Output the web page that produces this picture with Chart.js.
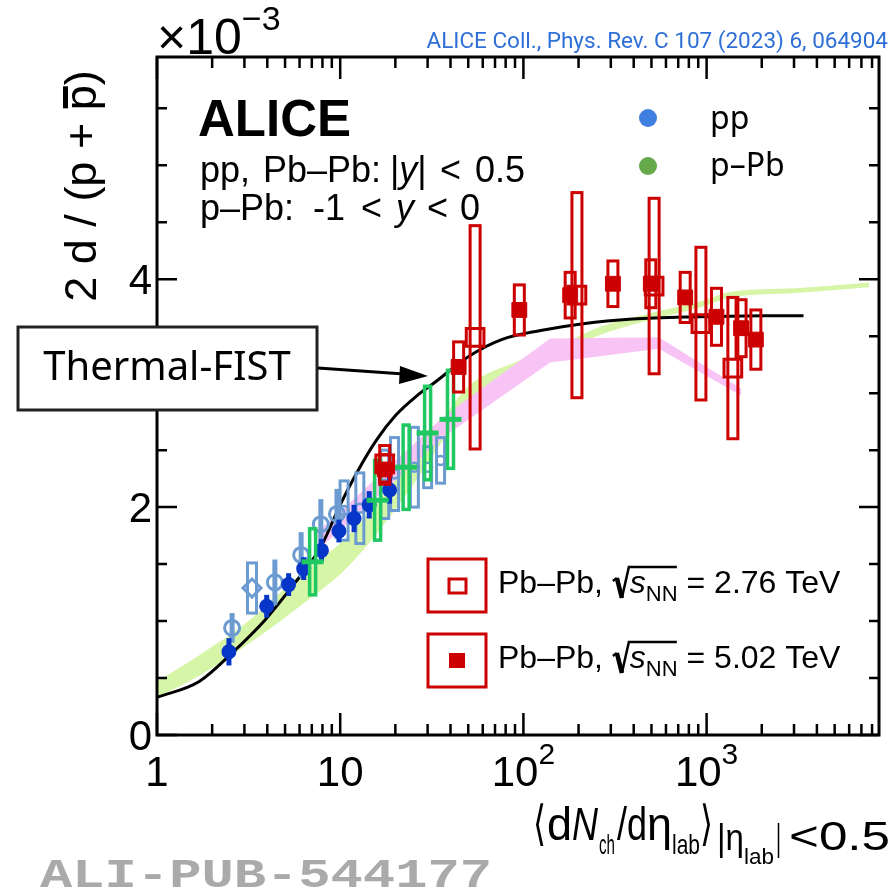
<!DOCTYPE html>
<html><head><meta charset="utf-8">
<script src="https://cdn.jsdelivr.net/npm/chart.js@4.4.1/dist/chart.umd.min.js"></script>
<style>html,body{margin:0;padding:0;background:#fff;}canvas{display:block;}</style>
</head><body>
<canvas id="c" width="895" height="892"></canvas>
<script>
// ---------------- data ----------------
const xTickValues = [1, 10, 100, 1000];
const xTickBase = ["1", "10", "10", "10"];
const xTickExp = ["", "", "2", "3"];
const yTickValues = [0, 2, 4];
const yTickLabels = ["0", "2", "4"];

// p-Pb model band (light green)
const greenBandX = [1, 1.7, 3.16, 5.9, 10.9, 20, 33, 50, 93, 172, 261, 486, 907, 1360, 3070, 7700];
const greenBandLow = [0.33, 0.52, 0.80, 1.12, 1.47, 1.98, 2.48, 2.92, 3.19, 3.38, 3.51, 3.64, 3.75, 3.84, 3.88, 3.93];
const greenBandHigh = [0.47, 0.70, 1.00, 1.39, 1.74, 2.24, 2.68, 3.06, 3.28, 3.45, 3.58, 3.70, 3.80, 3.89, 3.92, 3.97];

// pink model band
const pinkBandX = [7.5, 37, 140, 548, 1542];
const pinkBandLow = [1.62, 2.62, 3.27, 3.39, 2.98];
const pinkBandHigh = [1.78, 2.80, 3.48, 3.49, 3.04];

// Thermal-FIST curve
const fistX = [1, 1.7, 2.57, 3.89, 5.63, 7.83, 10, 12.3, 15.8, 20.2, 25.9, 33.2, 50, 76, 124, 212, 394, 907, 2050, 3380];
const fistY = [0.33, 0.47, 0.72, 1.01, 1.33, 1.65, 2.02, 2.30, 2.59, 2.81, 2.97, 3.10, 3.32, 3.47, 3.55, 3.61, 3.65, 3.67, 3.68, 3.68];

// pp, high multiplicity (light blue boxes)
const ppHmX = [10.5, 12.8, 17.5, 19.8, 25.4, 30, 35.3];
const ppHmY = [1.97, 1.99, 2.20, 2.29, 2.35, 2.35, 2.41];
const ppHmSys = [0.26, 0.31, 0.30, 0.32, 0.35, 0.18, 0.20];

// pp, open circles (light blue)
const ppOpenX = [2.57, 4.4, 6.12, 7.84, 9.6];
const ppOpenY = [0.94, 1.34, 1.58, 1.85, 1.94];
const ppOpenErr = [0.13, 0.20, 0.20, 0.22, 0.22];

// pp, open diamond (light blue)
const ppDiamondX = [3.3];
const ppDiamondY = [1.29];
const ppDiamondSys = [0.22];

// pp, filled circles (dark blue)
const ppFilledX = [2.47, 3.97, 5.23, 6.32, 7.9, 9.84, 11.9, 14.4, 18.6];
const ppFilledY = [0.73, 1.13, 1.32, 1.46, 1.62, 1.79, 1.90, 2.02, 2.15];
const ppFilledErr = [0.12, 0.10, 0.10, 0.10, 0.10, 0.10, 0.12, 0.12, 0.12];

// p-Pb (green)
const pPbX = [7.07, 16.0, 22.9, 30, 40];
const pPbY = [1.52, 2.06, 2.35, 2.65, 2.77];
const pPbSys = [0.29, 0.35, 0.37, 0.41, 0.43];

// Pb-Pb 2.76 TeV (open squares)
const pb276X = [17.5, 54.5, 196, 517, 931, 1391];
const pb276Y = [2.38, 3.49, 3.86, 3.94, 3.61, 3.22];
const pb276Sys = [0.16, 0.98, 0.90, 0.77, 0.67, 0.62];

// Pb-Pb 5.02 TeV (filled squares)
const pb502X = [17.5, 44.3, 95, 180, 308, 496, 764, 1132, 1542, 1857];
const pb502Y = [2.33, 3.23, 3.73, 3.86, 3.96, 3.96, 3.84, 3.67, 3.57, 3.47];
const pb502Sys = [0.13, 0.22, 0.22, 0.20, 0.20, 0.21, 0.22, 0.25, 0.25, 0.26];

// ---------------- colours ----------------
const RED = '#cc0000', DBLUE = '#0636c8', LBLUE = '#6b9bd1', GREEN = '#1fc861';
const pts = (xs, ys) => xs.map((x, i) => ({x: x, y: ys[i]}));

const errPlugin = {
  id: 'errs',
  beforeDatasetDraw(chart, args) {
    const ds = chart.data.datasets[args.index];
    if (!ds.errSpecs) return;
    const ctx = chart.ctx, xs = chart.scales.x, ys = chart.scales.y, a = chart.chartArea;
    ctx.save();
    ctx.beginPath(); ctx.rect(a.left, a.top, a.right - a.left, a.bottom - a.top); ctx.clip();
    ds.errSpecs.forEach(sp => {
      ctx.strokeStyle = sp.color; ctx.lineWidth = sp.line;
      ds.data.forEach((p, i) => {
        const e = sp.vals[i];
        const px = xs.getPixelForValue(p.x);
        const t = ys.getPixelForValue(p.y + e), b = ys.getPixelForValue(p.y - e);
        if (sp.kind === 'box') ctx.strokeRect(px - sp.w / 2, t, sp.w, b - t);
        else { ctx.beginPath(); ctx.moveTo(px, t); ctx.lineTo(px, b); ctx.stroke(); }
      });
    });
    ctx.restore();
  }
};

function txt(ctx, s, x, y, font, color, align, base) {
  ctx.font = font; ctx.fillStyle = color || '#000';
  ctx.textAlign = align || 'left'; ctx.textBaseline = base || 'alphabetic';
  ctx.fillText(s, x, y);
  return ctx.measureText(s).width;
}
// text squeezed/stretched horizontally to span x0..x1
function fit(ctx, s, x0, x1, y, font, color) {
  ctx.font = font;
  const w = ctx.measureText(s).width;
  ctx.save();
  ctx.translate(x0, y); ctx.scale((x1 - x0) / w, 1);
  ctx.fillStyle = color || '#000'; ctx.textAlign = 'left'; ctx.textBaseline = 'alphabetic';
  ctx.fillText(s, 0, 0);
  ctx.restore();
}

const decoPlugin = {
  id: 'deco',
  afterDraw(chart) {
    const ctx = chart.ctx, xs = chart.scales.x, ys = chart.scales.y, a = chart.chartArea;
    const SANS = "'Liberation Sans', Arial, sans-serif";
    const SANSG = "'Liberation Sans', 'DejaVu Sans', sans-serif";
    ctx.save();
    // frame
    ctx.strokeStyle = '#000'; ctx.lineWidth = 3;
    ctx.strokeRect(a.left, a.top, a.right - a.left, a.bottom - a.top);
    ctx.lineWidth = 2.5;
    for (let d = 0; d < 4; d++) for (let m = 1; m <= 9; m++) {
      const v = m * Math.pow(10, d);
      if (v > xs.max) continue;
      const px = xs.getPixelForValue(v), L = (m === 1) ? 22 : 11;
      ctx.beginPath();
      ctx.moveTo(px, a.bottom); ctx.lineTo(px, a.bottom - L);
      ctx.moveTo(px, a.top); ctx.lineTo(px, a.top + L);
      ctx.stroke();
    }
    for (let v = 0; v <= 5.5001; v += 0.5) {
      const py = ys.getPixelForValue(v), L = (Math.abs(v % 2) < 1e-6) ? 20 : 10;
      ctx.beginPath();
      ctx.moveTo(a.left, py); ctx.lineTo(a.left + L, py);
      ctx.moveTo(a.right, py); ctx.lineTo(a.right - L, py);
      ctx.stroke();
    }
    // tick labels
    yTickValues.forEach((v, i) => txt(ctx, yTickLabels[i], 152, ys.getPixelForValue(v) + 3, '42px ' + SANS, '#000', 'right', 'middle'));
    xTickValues.forEach((v, i) => {
      const px = xs.getPixelForValue(v);
      ctx.font = '42px ' + SANS; const w1 = ctx.measureText(xTickBase[i]).width;
      ctx.font = '30px ' + SANS; const w2 = xTickExp[i] ? ctx.measureText(xTickExp[i]).width : 0;
      const x0 = px - (w1 + w2) / 2;
      txt(ctx, xTickBase[i], x0, 786, '42px ' + SANS, '#000');
      if (w2) txt(ctx, xTickExp[i], x0 + w1, 764, '30px ' + SANS, '#000');
    });
    // x10^-3
    let w = txt(ctx, '×10', 157, 54, '50px ' + SANS, '#000');
    txt(ctx, '−3', 157 + w, 30, '34px ' + SANS, '#000');
    // citation
    txt(ctx, 'ALICE Coll., Phys. Rev. C 107 (2023) 6, 064904', 888, 48, "22.5px Roboto, 'Noto Sans', sans-serif", '#2f6fd8', 'right');
    // y title (rotated)
    ctx.save();
    ctx.translate(96, 186); ctx.rotate(-Math.PI / 2);
    ctx.font = '45px ' + SANS;
    const yt1 = '2 d / (p + ', yt2 = 'p', yt3 = ')';
    const wa = ctx.measureText(yt1).width, wb = ctx.measureText(yt2).width, wc = ctx.measureText(yt3).width;
    const st = -(wa + wb + wc) / 2;
    txt(ctx, yt1, st, 0, '45px ' + SANS, '#000');
    txt(ctx, yt2, st + wa, 0, '45px ' + SANS, '#000');
    txt(ctx, yt3, st + wa + wb, 0, '45px ' + SANS, '#000');
    ctx.fillStyle = '#000'; ctx.fillRect(st + wa + 2, -33, wb - 3, 5);
    ctx.restore();
    // x title, pieces placed along the reference span
    const B = 840;
    fit(ctx, '⟨', 533, 546, B, '48px ' + SANSG);
    fit(ctx, 'd', 547, 572, B, '46px ' + SANS);
    fit(ctx, 'N', 572, 598, B, 'italic 46px ' + SANS);
    fit(ctx, 'ch', 599, 615, B + 14, '28px ' + SANS);
    fit(ctx, '/d', 617, 647, B, '46px ' + SANS);
    fit(ctx, 'η', 647, 672, B, '46px ' + SANSG);
    fit(ctx, 'lab', 672, 700, B + 14, '28px ' + SANS);
    fit(ctx, '⟩', 700, 713, B, '48px ' + SANSG);
    fit(ctx, '|η', 717, 744, B + 10, '36px ' + SANSG);
    fit(ctx, 'lab', 744, 774, B + 24, '22px ' + SANS);
    fit(ctx, '|', 776, 781, B + 10, '36px ' + SANS);
    fit(ctx, '<0.5', 789, 890, B + 10, '40px ' + SANS);
    // ALICE + conditions (pieces at reference positions)
    txt(ctx, 'ALICE', 198, 136, 'bold 51px ' + SANS);
    const F36 = '36px ' + SANS, I36 = 'italic 36px ' + SANS;
    txt(ctx, 'pp,', 200, 182, F36);
    txt(ctx, 'Pb–Pb:', 263, 182, F36);
    let xx = 390;
    xx += txt(ctx, '|', xx, 182, F36);
    xx += txt(ctx, 'y', xx, 182, I36);
    txt(ctx, '|', xx, 182, F36);
    txt(ctx, '<', 440, 182, F36);
    txt(ctx, '0.5', 475, 182, F36);
    txt(ctx, 'p–Pb:', 200, 220, F36);
    txt(ctx, '-1', 313, 220, F36);
    txt(ctx, '<', 361, 220, F36);
    txt(ctx, 'y', 396, 220, I36);
    txt(ctx, '<', 427, 220, F36);
    txt(ctx, '0', 460, 220, F36);
    // pp / p-Pb legend
    ctx.fillStyle = '#3f7fe0'; ctx.beginPath(); ctx.arc(648, 118, 9, 0, 2 * Math.PI); ctx.fill();
    ctx.fillStyle = '#66a84c'; ctx.beginPath(); ctx.arc(648, 166, 9, 0, 2 * Math.PI); ctx.fill();
    txt(ctx, 'pp', 710, 129, "32px 'Noto Sans', sans-serif");
    txt(ctx, 'p–Pb', 710, 176, "32px 'Noto Sans', sans-serif");
    // Pb-Pb legend
    ctx.strokeStyle = RED; ctx.lineWidth = 3;
    ctx.strokeRect(428, 559, 58, 53);
    ctx.strokeRect(449, 579, 17, 14);
    ctx.strokeRect(428, 634, 58, 53);
    ctx.fillStyle = RED; ctx.fillRect(449, 653, 16, 15);
    [[593, '2.76'], [668, '5.02']].forEach(([bl, e]) => {
      let x = 498;
      x += txt(ctx, 'Pb–Pb, ', x, bl, '32px ' + SANS);
      ctx.strokeStyle = '#000'; ctx.lineWidth = 2.5;
      ctx.beginPath(); ctx.moveTo(x + 1, bl - 12); ctx.lineTo(x + 5, bl - 15); ctx.stroke();
      ctx.lineWidth = 4.5;
      ctx.beginPath(); ctx.moveTo(x + 5, bl - 15); ctx.lineTo(x + 10, bl + 5); ctx.stroke();
      ctx.lineWidth = 2.5;
      ctx.beginPath(); ctx.moveTo(x + 10, bl + 5); ctx.lineTo(x + 17, bl - 26); ctx.lineTo(x + 65, bl - 26); ctx.stroke();
      x += 18;
      x += txt(ctx, 's', x, bl, 'italic 32px ' + SANS);
      x += txt(ctx, 'NN', x, bl + 8, '22px ' + SANS);
      txt(ctx, ' = ' + e + ' TeV', x, bl, '32px ' + SANS);
    });
    // Thermal-FIST annotation
    ctx.fillStyle = '#fff'; ctx.fillRect(18, 327, 299, 83);
    ctx.strokeStyle = '#222'; ctx.lineWidth = 3; ctx.strokeRect(18, 327, 299, 83);
    txt(ctx, 'Thermal-FIST', 167, 369, "40px 'Noto Sans', sans-serif", '#000', 'center', 'middle');
    ctx.strokeStyle = '#000'; ctx.lineWidth = 3;
    ctx.beginPath(); ctx.moveTo(318, 368); ctx.lineTo(404, 374); ctx.stroke();
    ctx.fillStyle = '#000'; ctx.beginPath();
    ctx.moveTo(428, 376); ctx.lineTo(400, 366); ctx.lineTo(399, 384); ctx.closePath(); ctx.fill();
    // ALI-PUB
    fit(ctx, 'ALI-PUB-544177', 40, 492, 887, "bold 40px 'Liberation Mono', 'Courier New', monospace", '#aaaaaa');
    ctx.restore();
  }
};

const none = 'rgba(0,0,0,0)';
new Chart(document.getElementById('c'), {
  type: 'scatter',
  data: {
    datasets: [
      {type: 'line', label: 'band-low', data: pts(greenBandX, greenBandLow), borderColor: none, pointRadius: 0, fill: false, cubicInterpolationMode: 'monotone', order: 20},
      {type: 'line', label: 'p-Pb model', data: pts(greenBandX, greenBandHigh), borderColor: none, pointRadius: 0, fill: '-1', backgroundColor: '#d6f5a6', cubicInterpolationMode: 'monotone', order: 19},
      {type: 'line', label: 'pink-low', data: pts(pinkBandX, pinkBandLow), borderColor: none, pointRadius: 0, fill: false, tension: 0, order: 18},
      {type: 'line', label: 'Pb-Pb model', data: pts(pinkBandX, pinkBandHigh), borderColor: none, pointRadius: 0, fill: '-1', backgroundColor: '#f8c4f5', tension: 0, order: 17},
      {type: 'line', label: 'Thermal-FIST', data: pts(fistX, fistY), borderColor: '#000', borderWidth: 3, pointRadius: 0, fill: false, cubicInterpolationMode: 'monotone', order: 16},
      {label: 'pp HM', data: pts(ppHmX, ppHmY), pointStyle: 'circle', radius: 4.5, borderWidth: 2.5, borderColor: LBLUE, backgroundColor: none, order: 10,
        errSpecs: [{kind: 'box', vals: ppHmSys, w: 8, line: 3, color: LBLUE}]},
      {label: 'pp open', data: pts(ppOpenX, ppOpenY), pointStyle: 'circle', radius: 7.5, borderWidth: 3, borderColor: LBLUE, backgroundColor: none, order: 9,
        errSpecs: [{kind: 'bar', vals: ppOpenErr, line: 5, color: LBLUE}]},
      {label: 'pp diamond', data: pts(ppDiamondX, ppDiamondY), pointStyle: 'rectRot', radius: 9, borderWidth: 3, borderColor: LBLUE, backgroundColor: none, order: 8,
        errSpecs: [{kind: 'box', vals: ppDiamondSys, w: 9, line: 3, color: LBLUE}]},
      {label: 'pp', data: pts(ppFilledX, ppFilledY), pointStyle: 'circle', radius: 7.5, borderWidth: 0, borderColor: DBLUE, backgroundColor: DBLUE, order: 7,
        errSpecs: [{kind: 'bar', vals: ppFilledErr, line: 5, color: DBLUE}]},
      {label: 'p-Pb', data: pts(pPbX, pPbY), pointStyle: 'line', radius: 11, borderWidth: 5, borderColor: GREEN, backgroundColor: GREEN, order: 6,
        errSpecs: [{kind: 'box', vals: pPbSys, w: 6, line: 3.5, color: GREEN}]},
      {label: 'Pb-Pb 2.76 TeV', data: pts(pb276X, pb276Y), pointStyle: 'rect', radius: 12.5, borderWidth: 3, borderColor: RED, backgroundColor: none, order: 5,
        errSpecs: [{kind: 'box', vals: pb276Sys, w: 10, line: 3, color: RED}]},
      {label: 'Pb-Pb 5.02 TeV', data: pts(pb502X, pb502Y), pointStyle: 'rect', radius: 10.5, borderWidth: 1, borderColor: RED, backgroundColor: RED, order: 4,
        errSpecs: [{kind: 'box', vals: pb502Sys, w: 10, line: 3, color: RED}]}
    ]
  },
  options: {
    responsive: false, devicePixelRatio: 1, animation: false,
    layout: {padding: {left: 157, right: 5, top: 57, bottom: 157}},
    scales: {
      x: {type: 'logarithmic', min: 1, max: 8730, display: false},
      y: {type: 'linear', min: 0, max: 5.95, display: false}
    },
    plugins: {legend: {display: false}, tooltip: {enabled: false}}
  },
  plugins: [errPlugin, decoPlugin]
});
</script>
</body></html>
